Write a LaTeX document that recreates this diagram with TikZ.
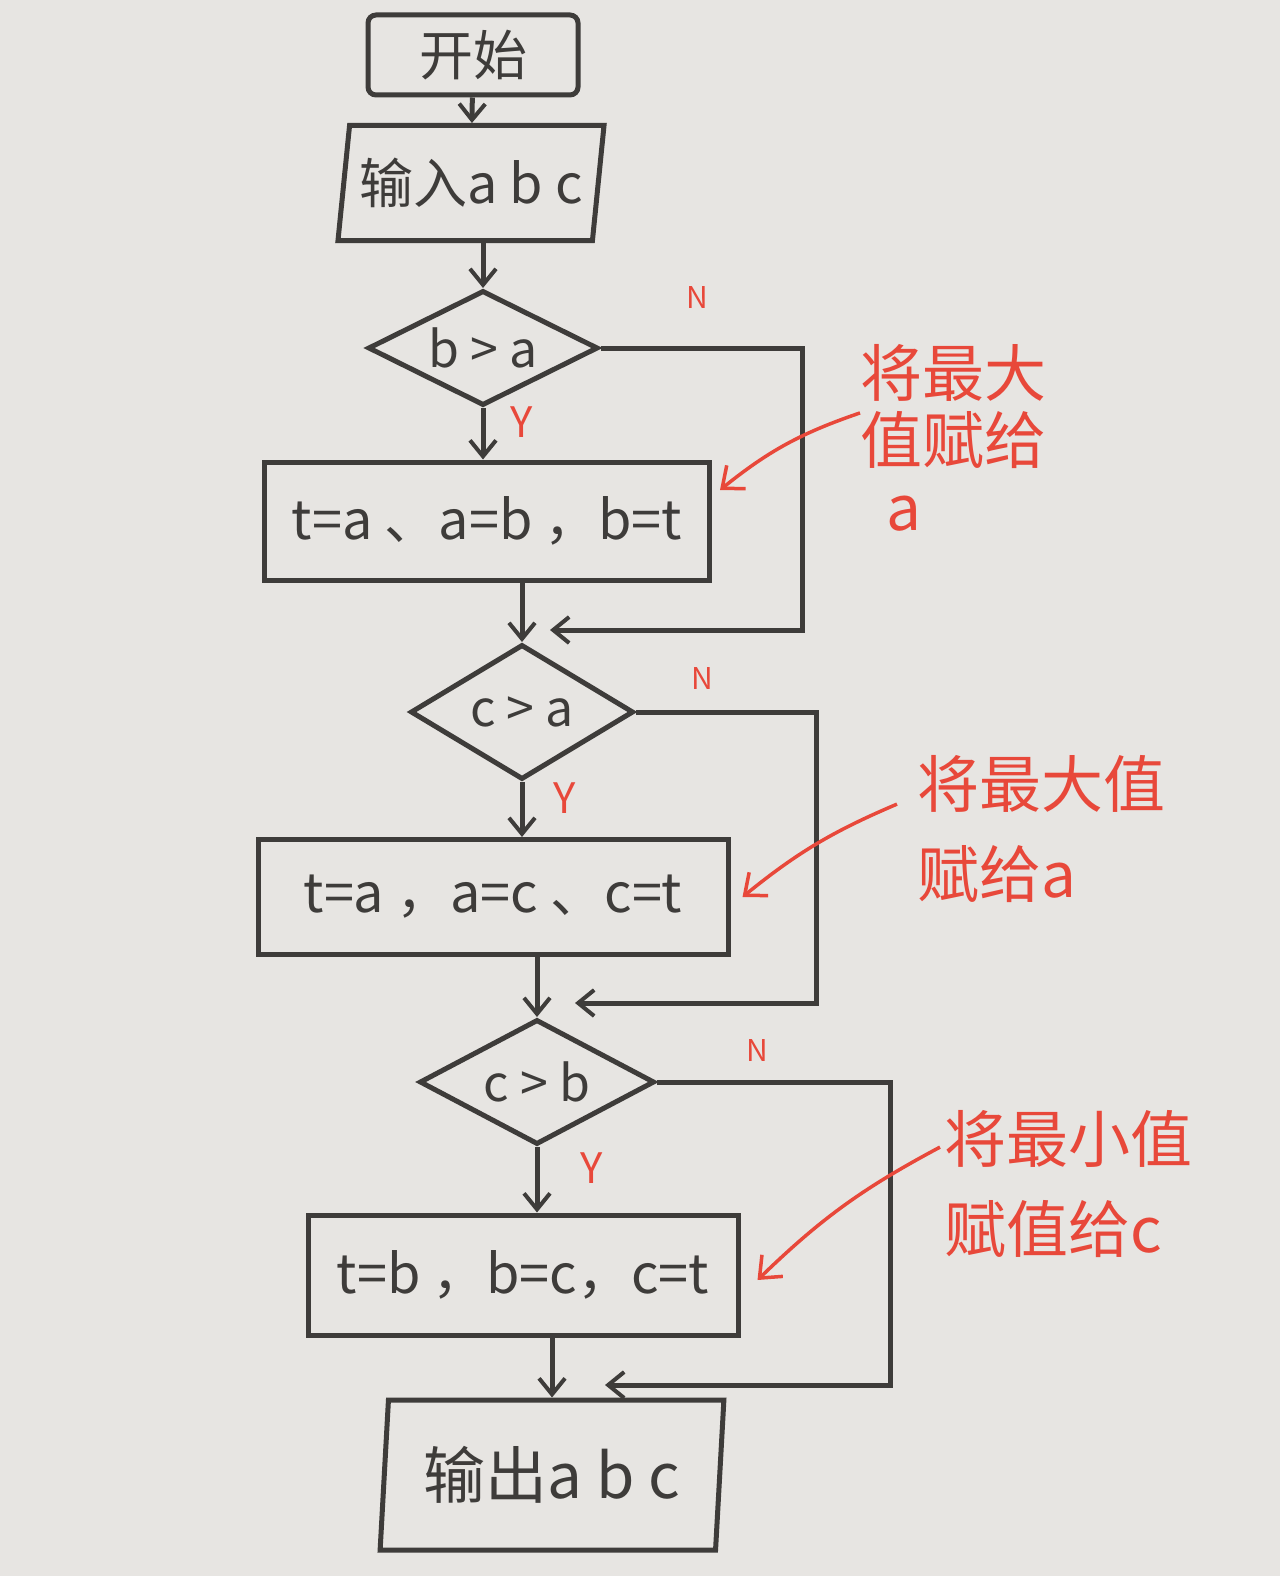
\documentclass[tikz,border=0pt]{standalone}
\usepackage{fontspec}
\setmainfont{Noto Sans CJK SC}
\usetikzlibrary{shapes.geometric,arrows.meta}

\definecolor{paper}{RGB}{231,229,226}
\definecolor{ink}{RGB}{62,60,58}
\definecolor{pen}{RGB}{232,72,58}

\tikzset{every picture/.style={line width=5pt}}
\tikzset{
  startbox/.style={draw=ink,text=ink,rectangle,rounded corners=8pt,minimum width=210,minimum height=80,font=\fontsize{54}{60}\selectfont},
  iobox/.style={draw=ink,text=ink,trapezium,trapezium stretches=true,trapezium left angle=#1,trapezium right angle=180-#1},
  test/.style={draw=ink,text=ink,diamond,aspect=2,inner sep=0pt,font=\fontsize{50}{56}\selectfont},
  proc/.style={draw=ink,text=ink,rectangle,inner sep=0pt,font=\fontsize{54}{60}\selectfont},
  flow/.style={draw=ink,-{Straight Barb[length=16pt,width=26pt,line width=4pt]}},
  hint/.style={draw=pen,line width=3.5pt,-{Straight Barb[length=18pt,width=30pt,line width=3.5pt]}},
  yn/.style={text=pen,inner sep=0pt},
  note/.style={text=pen,align=left,inner sep=0pt},
}

\begin{document}
\begin{tikzpicture}[x=1pt,y=-1pt]
\fill[paper] (0,0) rectangle (1280,1576);
\useasboundingbox (0,0) rectangle (1280,1576);

% flow nodes
\node[startbox] (start) at (473,55) {开始};
\node[iobox=79,minimum width=267,minimum height=115,font=\fontsize{54}{60}\selectfont] (input) at (471,183) {输入a b c};
\node[test,minimum width=230,minimum height=115] (d1) at (483,348) {b > a};
\node[proc,minimum width=445,minimum height=118] (p1) at (487,521) {t=a 、a=b ，b=t};
\node[test,minimum width=223,minimum height=135] (d2) at (522,712) {c > a};
\node[proc,minimum width=470,minimum height=115] (p2) at (493,897) {t=a ，a=c 、c=t};
\node[test,minimum width=235,minimum height=125] (d3) at (537,1082) {c > b};
\node[proc,minimum width=430,minimum height=120] (p3) at (523,1275) {t=b ，b=c，c=t};
\node[iobox=84,minimum width=345,minimum height=150,font=\fontsize{62}{68}\selectfont] (output) at (552,1475) {输出a b c};

% merge points
\coordinate (m1) at (550,630);
\coordinate (m2) at (575,1003);
\coordinate (m3) at (605,1385);

% main flow
\draw[flow] (start) -- (input);
\draw[flow] (input.south -| d1.north) -- (d1.north);
\draw[flow] (d1.south) -- (p1.north -| d1.south);
\draw[flow] (p1.south -| d2.north) -- (d2.north);
\draw[flow] (d2.south) -- (p2.north -| d2.south);
\draw[flow] (p2.south -| d3.north) -- (d3.north);
\draw[flow] (d3.south) -- (p3.north -| d3.south);
\draw[flow] (p3.south -| output.north) -- (output.north);

% N branches
\draw[flow] (d1.east) -- ++(202,0) |- (m1);
\draw[flow] (d2.east) -- ++(180,0) |- (m2);
\draw[flow] (d3.east) -- ++(233,0) |- (m3);

% Y / N labels
\node[yn,font=\fontsize{30}{32}\selectfont] (n1) at (697,298) {N};
\node[yn,font=\fontsize{30}{32}\selectfont] (n2) at (702,678) {N};
\node[yn,font=\fontsize{30}{32}\selectfont] (n3) at (757,1050) {N};
\node[yn,font=\fontsize{42}{44}\selectfont] (y1) at (522,422) {Y};
\node[yn,font=\fontsize{42}{44}\selectfont] (y2) at (565,798) {Y};
\node[yn,font=\fontsize{42}{44}\selectfont] (y3) at (592,1168) {Y};

% notes
\node[note,anchor=north west,font=\fontsize{62}{67}\selectfont] (t1) at (858,342) {将最大\\值赋给\\\hspace{26pt}a};
\node[note,anchor=north west,font=\fontsize{62}{90}\selectfont] (t2) at (915,753) {将最大值\\赋给a};
\node[note,anchor=north west,font=\fontsize{62}{90}\selectfont] (t3) at (942,1108) {将最小值\\赋值给c};

\draw[hint] ([xshift=2pt,yshift=25pt]t1.west) to[bend right=10] ([xshift=8pt,yshift=31pt]p1.east);
\draw[hint] ([xshift=-18pt,yshift=25pt]t2.west) to[bend right=8] ([xshift=12pt]p2.east);
\draw[hint] ([xshift=-2pt,yshift=37pt]t3.west) to[bend right=8] ([xshift=17pt,yshift=-5pt]p3.east);
\end{tikzpicture}
\end{document}
